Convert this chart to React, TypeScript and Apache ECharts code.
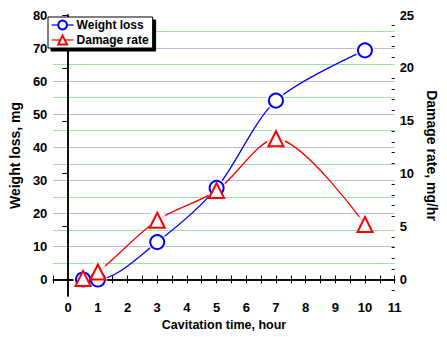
import React, { useEffect, useRef } from 'react';
import * as echarts from 'echarts';

const times = [0.5, 1, 3, 5, 7, 10];
const weightLoss = [0, 0, 11.3, 27.7, 54.1, 69.3];
const damageRate = [0.1, 0.7, 5.6, 8.4, 13.3, 5.2];
const rightTickLabels = [0, 5, 10, 15, 20, 25];
const rightMinorTicks = [-1, 1, 2, 3, 4, 6, 7, 8, 9, 11, 12, 13, 14, 16, 17, 18, 19, 21, 22, 23, 24];

const SANS = '"Liberation Sans", Arial, sans-serif';

const BLUE = '#0000ff';
const RED = '#ff0000';

export default function App() {
  const ref = useRef<HTMLDivElement>(null);
  useEffect(() => {
    document.body.style.margin = '0';
    const chart = echarts.init(ref.current!, null, { renderer: 'svg' });
    const wlData = times.map((t, i) => [t, weightLoss[i]]);
    const drData = times.map((t, i) => [t, damageRate[i]]);
    const labelStyle = { color: '#000', fontSize: 13, fontWeight: 'bold', fontFamily: SANS };
    const axisLine = { show: true, lineStyle: { color: '#000', width: 1.5 } };
    chart.setOption({
      animation: false,
      backgroundColor: '#fff',
      grid: { left: 48, top: 15, right: 45, bottom: 41 },
      legend: {
        data: ['Weight loss', 'Damage rate'],
        orient: 'vertical',
        left: 48,
        top: 17,
        itemWidth: 22,
        itemHeight: 11,
        itemGap: 3,
        padding: [2, 4, 2, 3],
        backgroundColor: '#fff',
        borderColor: '#000',
        borderWidth: 1,
        borderRadius: 0,
        shadowColor: '#000',
        shadowOffsetX: 3,
        shadowOffsetY: 3,
        shadowBlur: 0,
        selectedMode: false,
        textStyle: { fontFamily: SANS, fontSize: 12, fontWeight: 'bold', color: '#000', padding: [0, 0, 0, -2] },
        lineStyle: { opacity: 1, width: 1.2 },
      },
      xAxis: [
        {
          type: 'value', min: -0.5, max: 11, interval: 0.5, position: 'bottom',
          axisLine,
          axisTick: { show: true, inside: true, length: 4, lineStyle: { color: '#000', width: 1 } },
          axisLabel: {
            ...labelStyle, margin: 5,
            formatter: (v: number) => (Number.isInteger(Math.round(v * 1000) / 1000) && v >= 0 ? String(Math.round(v)) : ''),
          },
          splitLine: { show: false },
          name: 'Cavitation time, hour', nameLocation: 'middle', nameGap: 22,
          nameTextStyle: { color: '#000', fontSize: 12.5, fontWeight: 'bold', fontFamily: SANS },
        },
        {
          type: 'value', min: -0.5, max: 11, interval: 0.5, position: 'top',
          axisLine,
          axisTick: { show: true, inside: true, length: 4, lineStyle: { color: '#000', width: 1 } },
          axisLabel: { show: false },
          splitLine: { show: false },
        },
      ],
      yAxis: [
        {
          type: 'value', min: -5, max: 80, interval: 5, position: 'left',
          axisLine,
          axisTick: { show: false },
          axisLabel: {
            ...labelStyle, margin: 6,
            formatter: (v: number) => (v >= 0 && Math.round(v) % 10 === 0 ? String(Math.round(v)) : ''),
          },
          splitLine: {
            show: true, showMinLine: false, showMaxLine: false,
            lineStyle: { color: ['#6e6eff', '#22dd22'], type: [1, 1], width: 1 },
          },
          name: 'Weight loss, mg', nameLocation: 'middle', nameGap: 21,
          nameTextStyle: { color: '#000', fontSize: 14, fontWeight: 'bold', fontFamily: SANS },
        },
        {
          type: 'value', min: -1.5625, max: 25, position: 'right',
          axisLine,
          axisTick: { show: true, inside: true, length: 6, customValues: rightTickLabels, lineStyle: { color: '#000', width: 1 } },
          axisLabel: { ...labelStyle, margin: 5, customValues: rightTickLabels },
          splitLine: { show: false },
          name: 'Damage rate, mg/hr', nameLocation: 'middle', nameGap: 24, nameRotate: -90,
          nameTextStyle: { color: '#000', fontSize: 14, fontWeight: 'bold', fontFamily: SANS },
        },
        {
          type: 'value', min: -1.5625, max: 25, position: 'right',
          axisLine: { show: false },
          axisTick: { show: true, inside: true, length: 3, customValues: rightMinorTicks, lineStyle: { color: '#000', width: 1 } },
          axisLabel: { show: false },
          splitLine: { show: false },
        },
      ],
      series: [
        {
          name: '_wlLine', type: 'line', data: wlData, smooth: 0.3, symbol: 'none', showSymbol: false,
          lineStyle: { color: BLUE, width: 1.3 }, itemStyle: { color: BLUE }, z: 2, silent: true,
        },
        {
          name: '_drLine', type: 'line', yAxisIndex: 1, data: drData, smooth: 0.3, symbol: 'none', showSymbol: false,
          lineStyle: { color: RED, width: 1.3 }, itemStyle: { color: RED }, z: 2, silent: true,
        },
        {
          name: '_wlHalo', type: 'scatter', data: wlData, symbol: 'circle', symbolSize: 19,
          itemStyle: { color: '#fff' }, z: 3, silent: true,
        },
        {
          name: '_drHalo', type: 'scatter', yAxisIndex: 1, data: drData, symbol: 'circle', symbolSize: 19,
          itemStyle: { color: '#fff' }, z: 3, silent: true,
        },
        {
          name: 'Weight loss', type: 'line', data: wlData, symbol: 'emptyCircle', symbolSize: 14,
          lineStyle: { color: BLUE, width: 0, opacity: 0 },
          itemStyle: { color: BLUE, borderColor: BLUE, borderWidth: 1.2 }, z: 4, silent: true,
        },
        {
          name: 'Damage rate', type: 'line', yAxisIndex: 1, data: drData, symbol: 'emptyTriangle', symbolSize: 15,
          lineStyle: { color: RED, width: 0, opacity: 0 },
          itemStyle: { color: RED, borderColor: RED, borderWidth: 1.2 }, z: 4, silent: true,
        },
      ],
    });
    return () => chart.dispose();
  }, []);
  return <div ref={ref} style={{ position: 'absolute', left: 0, top: 0, width: 447, height: 337 }} />;
}
